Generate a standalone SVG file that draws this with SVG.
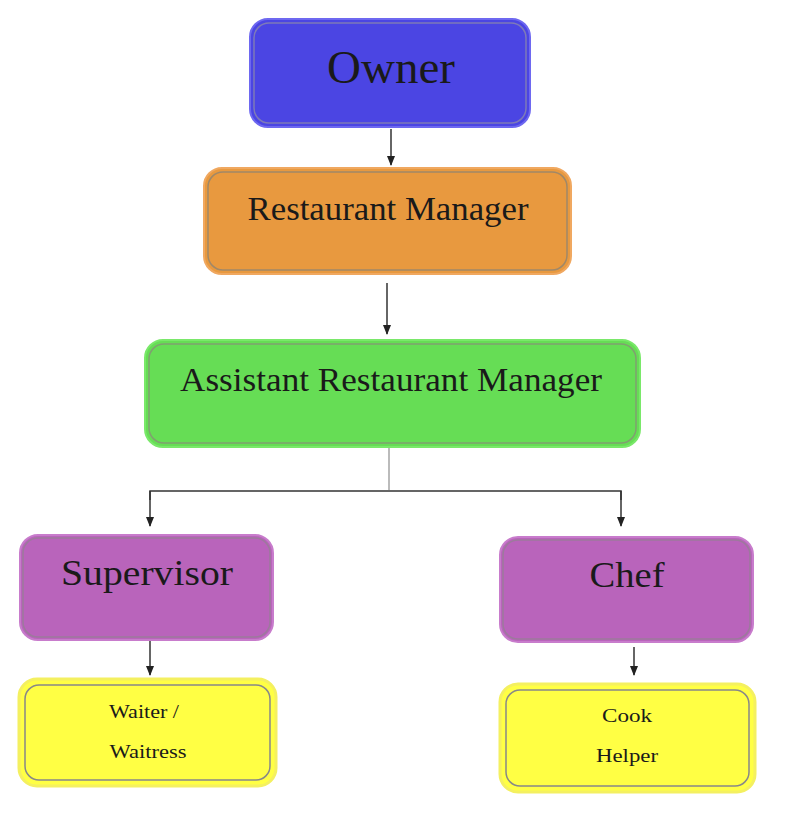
<svg xmlns="http://www.w3.org/2000/svg" width="786" height="825" viewBox="0 0 786 825">
<style>
text{font-family:"Liberation Serif","Times New Roman",serif;fill:#1a1a1a;text-anchor:middle}
.c{stroke:#333;stroke-width:1.5;fill:none}
.inner{fill:none;stroke-width:1.5}
</style>
<defs>
<marker id="ah" viewBox="0 0 10 10" refX="9" refY="5" markerWidth="11" markerHeight="10" orient="auto" markerUnits="userSpaceOnUse">
<path d="M0,1 L10,5 L0,9 Z" fill="#222"/>
</marker>
</defs>
<rect width="786" height="825" fill="#fff"/>
<g id="connectors">
<line class="c" x1="391" y1="129" x2="391" y2="165" marker-end="url(#ah)"/>
<line class="c" x1="387" y1="283" x2="387" y2="334" marker-end="url(#ah)"/>
<line x1="389" y1="448" x2="389" y2="490" stroke="#bbb" stroke-width="2"/>
<polyline class="c" points="150,500 150,491 621,491 621,500"/>
<line class="c" x1="150" y1="491" x2="150" y2="526" marker-end="url(#ah)"/>
<line class="c" x1="621" y1="491" x2="621" y2="526" marker-end="url(#ah)"/>
<line class="c" x1="150" y1="641" x2="150" y2="675" marker-end="url(#ah)"/>
<line class="c" x1="634" y1="647" x2="634" y2="675" marker-end="url(#ah)"/>
</g>
<g id="owner">
<rect x="250" y="19" width="280" height="108" rx="18" fill="#4b45e3" stroke="#6e68f0" stroke-width="2"/>
<rect x="254" y="23" width="272" height="100" rx="15" class="inner" stroke="#7e7ab8"/>
<text x="391" y="83" font-size="47">Owner</text>
</g>
<g id="restaurant-manager">
<rect x="204" y="168" width="367" height="106" rx="18" fill="#e8993f" stroke="#f0a860" stroke-width="2"/>
<rect x="208" y="172" width="359" height="98" rx="15" class="inner" stroke="#a08868"/>
<text x="388" y="220" font-size="34" textLength="281" lengthAdjust="spacingAndGlyphs">Restaurant Manager</text>
</g>
<g id="assistant-restaurant-manager">
<rect x="145" y="340" width="495" height="107" rx="18" fill="#66dd55" stroke="#7ae86a" stroke-width="2"/>
<rect x="149" y="344" width="487" height="99" rx="15" class="inner" stroke="#80a070"/>
<text x="391" y="391" font-size="34" textLength="422" lengthAdjust="spacingAndGlyphs">Assistant Restaurant Manager</text>
</g>
<g id="supervisor">
<rect x="20" y="535" width="253" height="105" rx="18" fill="#b964bb" stroke="#c87ccc" stroke-width="2"/>
<rect x="23" y="538" width="247" height="99" rx="15" class="inner" stroke="#9c7a9c" stroke-width="2"/>
<text x="147" y="585" font-size="36" textLength="172" lengthAdjust="spacingAndGlyphs">Supervisor</text>
</g>
<g id="chef">
<rect x="500" y="537" width="253" height="105" rx="18" fill="#b964bb" stroke="#c87ccc" stroke-width="2"/>
<rect x="503" y="540" width="247" height="99" rx="15" class="inner" stroke="#9c7a9c" stroke-width="2"/>
<text x="627" y="587" font-size="36" textLength="75" lengthAdjust="spacingAndGlyphs">Chef</text>
</g>
<g id="waiter">
<rect x="19" y="679" width="257" height="107" rx="18" fill="#ffff44" stroke="#f4f060" stroke-width="3"/>
<rect x="25" y="685" width="245" height="95" rx="14" class="inner" stroke="#888" stroke-width="1.2"/>
<text x="144" y="718" font-size="19" textLength="70" lengthAdjust="spacingAndGlyphs">Waiter /</text>
<text x="148" y="758" font-size="19" textLength="77" lengthAdjust="spacingAndGlyphs">Waitress</text>
</g>
<g id="cook">
<rect x="500" y="684" width="255" height="108" rx="18" fill="#ffff44" stroke="#f4f060" stroke-width="3"/>
<rect x="506" y="690" width="243" height="96" rx="14" class="inner" stroke="#888" stroke-width="1.2"/>
<text x="627" y="722" font-size="19" textLength="50" lengthAdjust="spacingAndGlyphs">Cook</text>
<text x="627" y="762" font-size="19" textLength="62" lengthAdjust="spacingAndGlyphs">Helper</text>
</g>
</svg>
